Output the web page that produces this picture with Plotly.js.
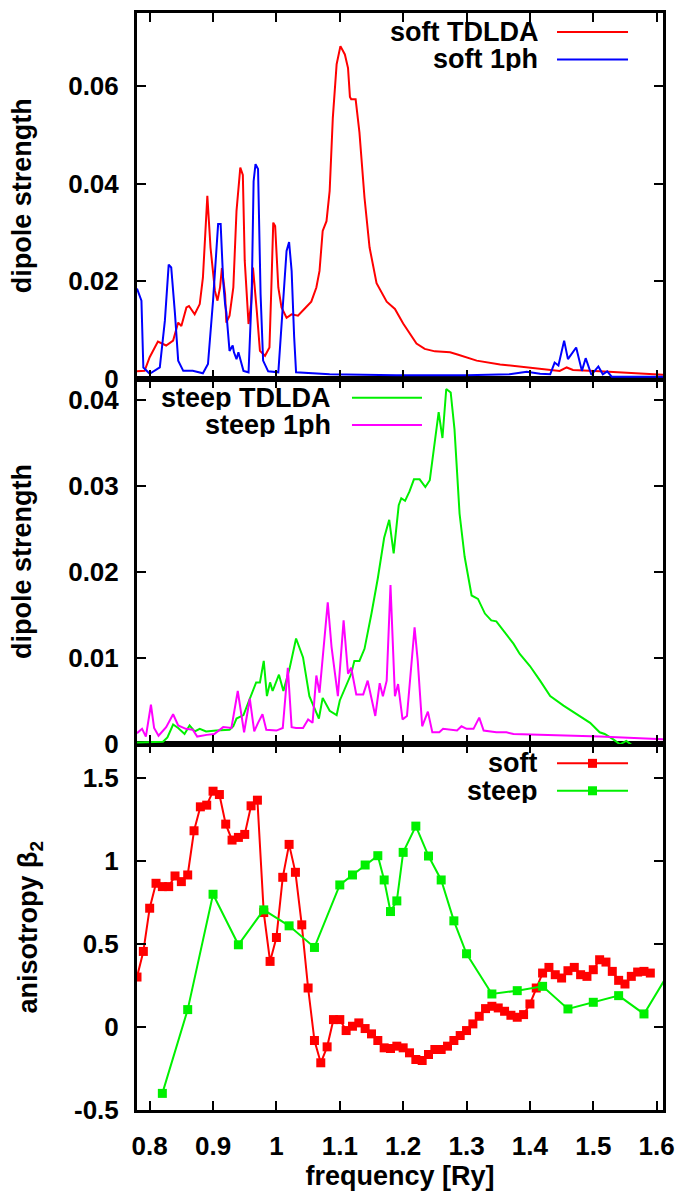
<!DOCTYPE html>
<html>
<head>
<meta charset="utf-8">
<script src="https://cdn.plot.ly/plotly-3.0.1.min.js"></script>
<style>
  html, body { margin: 0; padding: 0; background: #ffffff; }
  #chart { width: 678px; height: 1193px; }
</style>
</head>
<body>
<div id="chart"></div>
<script>
// ---------- Top panel: soft potential ----------
const softTdldaX = [0.780,0.792,0.800,0.813,0.826,0.837,0.845,0.850,0.858,0.862,0.871,0.879,0.884,0.891,0.896,0.903,0.907,0.911,0.914,0.919,0.921,0.926,0.932,0.937,0.943,0.947,0.950,0.956,0.960,0.963,0.969,0.974,0.982,0.989,0.992,0.995,0.998,1.003,1.008,1.016,1.024,1.034,1.044,1.055,1.063,1.068,1.073,1.079,1.084,1.089,1.095,1.101,1.108,1.113,1.116,1.118,1.125,1.131,1.139,1.147,1.158,1.174,1.187,1.200,1.221,1.234,1.250,1.274,1.287,1.316,1.353,1.395,1.426,1.447,1.458,1.468,1.510,1.563,1.610];
const softTdldaY = [0.0015,0.0016,0.0044,0.0076,0.0068,0.0078,0.0115,0.0108,0.0146,0.0149,0.0132,0.0153,0.0207,0.0375,0.0269,0.0180,0.0160,0.0187,0.0227,0.0173,0.0115,0.0129,0.0187,0.0344,0.0433,0.0418,0.0242,0.0112,0.0153,0.0228,0.0139,0.0057,0.0047,0.0064,0.0187,0.0320,0.0313,0.0187,0.0146,0.0125,0.0132,0.0129,0.0143,0.0158,0.0187,0.0221,0.0303,0.0323,0.0385,0.0535,0.0645,0.0682,0.0665,0.0637,0.0578,0.0573,0.0573,0.0505,0.0371,0.0269,0.0196,0.0158,0.0143,0.0113,0.0072,0.0061,0.0056,0.0054,0.0049,0.0037,0.0029,0.0023,0.0020,0.0016,0.0023,0.0018,0.0015,0.0011,0.0008];

const soft1phX = [0.780,0.787,0.790,0.800,0.816,0.824,0.830,0.834,0.840,0.845,0.853,0.868,0.884,0.892,0.900,0.908,0.912,0.916,0.919,0.921,0.926,0.931,0.933,0.937,0.940,0.948,0.956,0.961,0.964,0.967,0.971,0.975,0.979,0.987,1.003,1.011,1.016,1.020,1.024,1.028,1.031,1.084,1.189,1.300,1.368,1.395,1.416,1.432,1.439,1.445,1.454,1.460,1.473,1.482,1.488,1.497,1.508,1.515,1.522,1.529,1.610];
const soft1phY = [0.0185,0.0160,0.0023,0.0010,0.0023,0.0119,0.0234,0.0228,0.0132,0.0037,0.0016,0.0016,0.0011,0.0030,0.0160,0.0317,0.0317,0.0200,0.0153,0.0136,0.0057,0.0068,0.0054,0.0040,0.0054,0.0016,0.0013,0.0173,0.0405,0.0440,0.0430,0.0173,0.0037,0.0015,0.0013,0.0173,0.0262,0.0280,0.0221,0.0085,0.0013,0.0009,0.0007,0.0007,0.0009,0.0014,0.0010,0.0009,0.0033,0.0027,0.0078,0.0040,0.0064,0.0016,0.0042,0.0008,0.0025,0.0009,0.0015,0.0004,0.0004];

// ---------- Middle panel: steep potential ----------
const steepTdldaX = [0.780,0.821,0.828,0.837,0.845,0.855,0.863,0.871,0.879,0.889,0.905,0.926,0.932,0.937,0.948,0.958,0.968,0.974,0.980,0.985,0.990,0.994,1.004,1.011,1.021,1.031,1.042,1.052,1.067,1.073,1.084,1.095,1.100,1.118,1.123,1.131,1.139,1.150,1.160,1.170,1.178,1.185,1.193,1.197,1.203,1.210,1.217,1.226,1.235,1.242,1.250,1.256,1.262,1.268,1.275,1.281,1.289,1.297,1.308,1.318,1.329,1.339,1.347,1.358,1.374,1.384,1.400,1.416,1.432,1.453,1.474,1.495,1.510,1.518,1.531,1.542,1.552,1.563,1.590,1.610];
const steepTdldaY = [0.0002,0.0003,0.0008,0.0023,0.0019,0.0012,0.0022,0.0015,0.0018,0.0015,0.0016,0.0017,0.0021,0.0030,0.0034,0.0053,0.0072,0.0072,0.0097,0.0056,0.0072,0.0062,0.0081,0.0062,0.0089,0.0123,0.0101,0.0056,0.0030,0.0054,0.0039,0.0034,0.0051,0.0082,0.0097,0.0097,0.0111,0.0152,0.0193,0.0240,0.0261,0.0222,0.0278,0.0286,0.0283,0.0294,0.0308,0.0308,0.0299,0.0307,0.0352,0.0386,0.0356,0.0413,0.0409,0.0366,0.0268,0.0218,0.0173,0.0169,0.0152,0.0144,0.0143,0.0132,0.0117,0.0105,0.0091,0.0074,0.0056,0.0045,0.0035,0.0025,0.0014,0.0012,0.0006,0.0000,0.0004,-0.0002,-0.0008,-0.0012];

const steep1phX = [0.780,0.784,0.788,0.794,0.802,0.807,0.814,0.826,0.837,0.845,0.857,0.868,0.875,0.890,0.902,0.916,0.929,0.939,0.949,0.958,0.965,0.971,0.978,0.984,1.000,1.010,1.018,1.024,1.031,1.042,1.050,1.057,1.063,1.068,1.081,1.087,1.097,1.106,1.113,1.118,1.126,1.137,1.144,1.156,1.163,1.168,1.174,1.180,1.187,1.192,1.199,1.206,1.218,1.223,1.230,1.239,1.246,1.257,1.263,1.285,1.292,1.300,1.311,1.320,1.327,1.347,1.363,1.374,1.432,1.510,1.610];
const steep1phY = [0.0013,0.0016,0.0018,0.0009,0.0046,0.0019,0.0010,0.0020,0.0035,0.0022,0.0018,0.0017,0.0009,0.0011,0.0012,0.0020,0.0019,0.0062,0.0014,0.0053,0.0015,0.0025,0.0035,0.0017,0.0016,0.0019,0.0089,0.0020,0.0019,0.0019,0.0029,0.0025,0.0080,0.0060,0.0165,0.0113,0.0056,0.0144,0.0082,0.0089,0.0058,0.0058,0.0074,0.0033,0.0071,0.0056,0.0074,0.0185,0.0056,0.0070,0.0029,0.0033,0.0136,0.0097,0.0021,0.0038,0.0014,0.0014,0.0018,0.0016,0.0021,0.0018,0.0018,0.0031,0.0016,0.0014,0.0014,0.0012,0.0011,0.0009,0.0006];

// ---------- Bottom panel: anisotropy beta_2 ----------
const betaSoftX = [0.78,0.79,0.80,0.81,0.82,0.83,0.84,0.85,0.86,0.87,0.88,0.89,0.90,0.91,0.92,0.93,0.94,0.95,0.96,0.97,0.98,0.99,1.00,1.01,1.02,1.03,1.04,1.05,1.06,1.07,1.08,1.09,1.10,1.11,1.12,1.13,1.14,1.15,1.16,1.17,1.18,1.19,1.20,1.21,1.22,1.23,1.24,1.25,1.26,1.27,1.28,1.29,1.30,1.31,1.32,1.33,1.34,1.35,1.36,1.37,1.38,1.39,1.40,1.41,1.42,1.43,1.44,1.45,1.46,1.47,1.48,1.49,1.50,1.51,1.52,1.53,1.54,1.55,1.56,1.57,1.58,1.59];
const betaSoftY = [0.30,0.454,0.714,0.864,0.844,0.844,0.908,0.874,0.914,1.18,1.324,1.334,1.418,1.398,1.22,1.124,1.14,1.158,1.33,1.364,0.688,0.394,0.538,0.90,1.098,0.93,0.614,0.234,-0.082,-0.216,-0.12,0.044,0.044,-0.022,0.004,0.024,-0.01,-0.042,-0.082,-0.126,-0.13,-0.116,-0.126,-0.156,-0.196,-0.202,-0.166,-0.136,-0.136,-0.116,-0.082,-0.052,-0.022,0.018,0.064,0.11,0.124,0.114,0.094,0.07,0.058,0.074,0.138,0.234,0.324,0.358,0.314,0.294,0.338,0.358,0.314,0.304,0.344,0.404,0.39,0.334,0.28,0.258,0.304,0.33,0.334,0.324];

const betaSteepX = [0.82,0.86,0.90,0.94,0.98,1.02,1.06,1.10,1.12,1.14,1.16,1.17,1.18,1.19,1.20,1.22,1.24,1.26,1.28,1.30,1.34,1.38,1.42,1.46,1.50,1.54,1.58,1.62];
const betaSteepY = [-0.40,0.104,0.798,0.494,0.704,0.608,0.478,0.854,0.914,0.974,1.03,0.884,0.694,0.758,1.05,1.208,1.028,0.884,0.638,0.44,0.198,0.218,0.244,0.108,0.148,0.188,0.078,0.33];

// ---------- Tick labels ----------
const freqTicks = [0.8,0.9,1.0,1.1,1.2,1.3,1.4,1.5,1.6];
const freqTickText = ['0.8','0.9','1','1.1','1.2','1.3','1.4','1.5','1.6'];
const topTicks = [0,0.02,0.04,0.06];
const topTickText = ['0','0.02','0.04','0.06'];
const midTicks = [0,0.01,0.02,0.03,0.04];
const midTickText = ['0','0.01','0.02','0.03','0.04'];
const betaTicks = [-0.5,0,0.5,1,1.5];
const betaTickText = ['-0.5','0','0.5','1','1.5'];

const seriesNames = ['soft TDLDA','soft 1ph','steep TDLDA','steep 1ph','soft','steep'];
const colRed = '#ff0000', colBlue = '#0000ff', colGreen = '#00f000', colMag = '#ff00ff';

const FONT = 'Liberation Sans, Arial, Helvetica, sans-serif';
const fnt = (s) => ({family: FONT, size: s, color: '#000', weight: 'bold'});
const TICK = 26, LAB = 27;

const traces = [
  {x: softTdldaX, y: softTdldaY, xaxis: 'x3', yaxis: 'y3', type: 'scatter', mode: 'lines', name: seriesNames[0], line: {color: colRed, width: 2}},
  {x: soft1phX, y: soft1phY, xaxis: 'x3', yaxis: 'y3', type: 'scatter', mode: 'lines', name: seriesNames[1], line: {color: colBlue, width: 2}},
  {x: steepTdldaX, y: steepTdldaY, xaxis: 'x2', yaxis: 'y2', type: 'scatter', mode: 'lines', name: seriesNames[2], line: {color: colGreen, width: 2}},
  {x: steep1phX, y: steep1phY, xaxis: 'x2', yaxis: 'y2', type: 'scatter', mode: 'lines', name: seriesNames[3], line: {color: colMag, width: 2}},
  {x: betaSoftX, y: betaSoftY, xaxis: 'x', yaxis: 'y', type: 'scatter', mode: 'lines+markers', name: seriesNames[4], line: {color: colRed, width: 2}, marker: {symbol: 'square', size: 9, color: colRed}},
  {x: betaSteepX, y: betaSteepY, xaxis: 'x', yaxis: 'y', type: 'scatter', mode: 'lines+markers', name: seriesNames[5], line: {color: colGreen, width: 2}, marker: {symbol: 'square', size: 9, color: colGreen}}
];

const axBase = {
  showline: true, linecolor: '#000', linewidth: 3, mirror: 'ticks',
  ticks: 'inside', ticklen: 9, tickwidth: 2, tickcolor: '#000',
  showgrid: false, zeroline: false, tickfont: fnt(TICK)
};
const xr = [0.78, 1.61];

const layout = {
  width: 678, height: 1193,
  margin: {l: 137, r: 15, t: 13, b: 83},
  paper_bgcolor: '#fff', plot_bgcolor: '#fff',
  showlegend: false,
  font: fnt(TICK),
  xaxis: Object.assign({}, axBase, {domain: [0,1], anchor: 'y', range: xr, tickmode: 'array', tickvals: freqTicks, ticktext: freqTickText, ticklabelstandoff: 11,
    title: {text: 'frequency [Ry]', font: fnt(LAB), standoff: 4}}),
  xaxis2: Object.assign({}, axBase, {domain: [0,1], anchor: 'y2', range: xr, tickmode: 'array', tickvals: freqTicks, showticklabels: false}),
  xaxis3: Object.assign({}, axBase, {domain: [0,1], anchor: 'y3', range: xr, tickmode: 'array', tickvals: freqTicks, showticklabels: false}),
  yaxis: Object.assign({}, axBase, {domain: [0, 1/3], anchor: 'x', range: [-0.5, 1.7], tickmode: 'array', tickvals: betaTicks, ticktext: betaTickText, ticklabelstandoff: 10,
    title: {text: 'anisotropy β<sub>2</sub>', font: fnt(LAB), standoff: 29}}),
  yaxis2: Object.assign({}, axBase, {domain: [1/3, 2/3], anchor: 'x2', range: [0, 0.0425], tickmode: 'array', tickvals: midTicks, ticktext: midTickText, ticklabelstandoff: 10,
    title: {text: 'dipole strength', font: fnt(LAB), standoff: 29}}),
  yaxis3: Object.assign({}, axBase, {domain: [2/3, 1], anchor: 'x3', range: [0, 0.075], tickmode: 'array', tickvals: topTicks, ticktext: topTickText, ticklabelstandoff: 10,
    title: {text: 'dipole strength', font: fnt(LAB), standoff: 29}}),
  annotations: [],
  shapes: []
};

// legend-like keys (text on the left, sample on the right, as in the reference)
function key(xa, ya, txtRight, x0, x1, yRow, label, color, withMarker) {
  layout.annotations.push({xref: xa + ' domain', yref: ya + ' domain', x: txtRight, y: yRow, xanchor: 'right', yanchor: 'middle',
    height: 24, valign: 'middle', text: label, showarrow: false, font: fnt(LAB)});
  layout.shapes.push({type: 'line', xref: xa + ' domain', yref: ya + ' domain', x0: x0, x1: x1, y0: yRow, y1: yRow, line: {color: color, width: 2}});
  if (withMarker) {
    const xm = (x0 + x1) / 2, dx = 4.5 / 526, dy = 4.5 / 365.7;
    layout.shapes.push({type: 'rect', xref: xa + ' domain', yref: ya + ' domain', x0: xm - dx, x1: xm + dx, y0: yRow - dy, y1: yRow + dy,
      line: {width: 0}, fillcolor: color});
  }
}
key('x3', 'y3', 0.766, 0.7985, 0.9335, 0.948, seriesNames[0], colRed, false);
key('x3', 'y3', 0.766, 0.7985, 0.9335, 0.873, seriesNames[1], colBlue, false);
key('x2', 'y2', 0.3726, 0.4087, 0.5418, 0.948, seriesNames[2], colGreen, false);
key('x2', 'y2', 0.3726, 0.4087, 0.5418, 0.873, seriesNames[3], colMag, false);
key('x', 'y', 0.766, 0.7985, 0.9335, 0.948, seriesNames[4], colRed, true);
key('x', 'y', 0.766, 0.7985, 0.9335, 0.873, seriesNames[5], colGreen, true);

Plotly.newPlot('chart', traces, layout, {displayModeBar: false, staticPlot: true});
</script>
</body>
</html>
